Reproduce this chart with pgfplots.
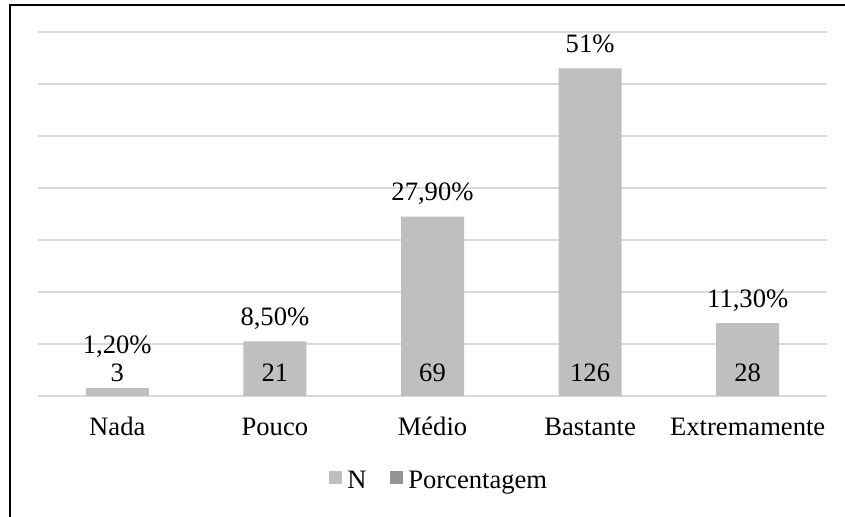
\documentclass[border=0pt]{standalone}
\usepackage{pgfplots}
\pgfplotsset{compat=1.18}
\usepackage{pgfplotstable}
\usepackage{fontspec}
\setmainfont{Liberation Serif}

\definecolor{barN}{HTML}{BFBFBF}
\definecolor{barP}{HTML}{959595}
\definecolor{gridc}{HTML}{D9D9D9}

% Respostas: contagem (N) e porcentagem por categoria
\pgfplotstableread{
x N pct
0 3 1,20
1 21 8,50
2 69 27,90
3 126 51
4 28 11,30
}\resp

\begin{document}
\fontsize{13.3}{16}\selectfont
\begin{tikzpicture}
\useasboundingbox (0,0) rectangle (422.5pt,258.5pt);
\begin{axis}[
  at={(19.25pt,60.5pt)}, anchor=south west,
  scale only axis, width=394pt, height=182pt,
  xmin=-0.5, xmax=4.5, ymin=0, ymax=140,
  axis line style={draw=none},
  ytick={0,20,...,140}, yticklabels={},
  ymajorgrids, grid style={gridc, line width=0.75pt},
  xtick={0,1,2,3,4},
  xticklabels={Nada,Pouco,Médio,Bastante,Extremamente},
  major tick length=0pt,
  xticklabel style={anchor=base, yshift=-20pt},
  clip=false,
  legend columns=2,
  legend style={draw=none, fill=none,
    at={(axis description cs:0.5,0)}, anchor=center,
    yshift=-43.5pt, xshift=2.75pt,
    nodes={inner xsep=0pt, inner ysep=1pt, text height=9pt, text depth=3pt},
    /tikz/every odd column/.append style={column sep=2.8pt},
    /tikz/every even column/.append style={column sep=11.5pt}},
]
% barras de N com o valor junto à base
\addplot[ybar, bar width=31.5pt, fill=barN, draw=none,
  legend image code/.code={\fill[barN] (0pt,-0.5pt) rectangle (6.5pt,6pt);},
  point meta=explicit symbolic,
  nodes near coords={\pgfplotspointmeta},
  visualization depends on={rawy \as \yval},
  every node near coord/.append style={anchor=base, text height=, text depth=, yshift={7.2-\yval*1.3}},
] table[x=x, y=N, meta=N] {\resp};
\addlegendentry{N}
% porcentagens acima de cada barra
\addplot[forget plot, draw=none, mark=none,
  point meta=explicit symbolic,
  nodes near coords={\pgfplotspointmeta\%},
  visualization depends on={rawy \as \yval},
  every node near coord/.append style={anchor=base, yshift={max(\yval*1.3+7.8,21.3)-\yval*1.3}},
] table[x=x, y=N, meta=pct] {\resp};
\addlegendimage{fill=barP, draw=none,
  legend image code/.code={\fill[barP] (0pt,-0.5pt) rectangle (6.5pt,6pt);}}
\addlegendentry{Porcentagem}
\end{axis}
\draw[line width=1pt, black] (4.75pt,-5pt) -- (4.75pt,256pt) -- (430pt,256pt);
\end{tikzpicture}
\end{document}
